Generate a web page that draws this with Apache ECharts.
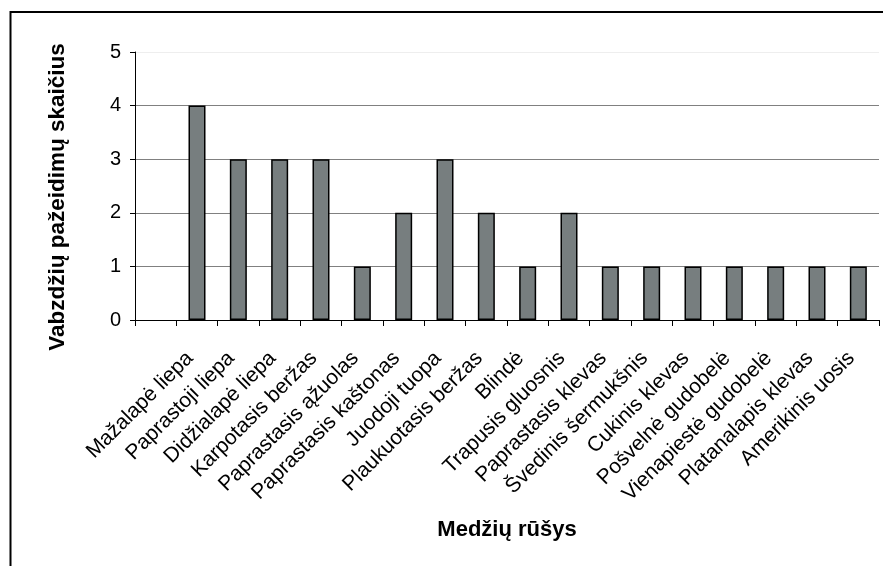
<!DOCTYPE html>
<html>
<head>
<meta charset="utf-8">
<script src="https://cdn.jsdelivr.net/npm/echarts@6/dist/echarts.min.js"></script>
<style>
  html, body { margin: 0; padding: 0; background: #fff; }
  #chart { width: 883px; height: 566px; }
</style>
</head>
<body>
<div id="chart"></div>
<script>
// Tree species (first slot is left empty on the axis)
const species = [
  '',
  'Mažalapė liepa',
  'Paprastoji liepa',
  'Didžialapė liepa',
  'Karpotasis beržas',
  'Paprastasis ąžuolas',
  'Paprastasis kaštonas',
  'Juodoji tuopa',
  'Plaukuotasis beržas',
  'Blindė',
  'Trapusis gluosnis',
  'Paprastasis klevas',
  'Švedinis šermukšnis',
  'Cukinis klevas',
  'Pošvelnė gudobelė',
  'Vienapiestė gudobelė',
  'Platanalapis klevas',
  'Amerikinis uosis'
];

// Number of insect damage cases per species
const damageCounts = [null, 4, 3, 3, 3, 1, 2, 3, 2, 1, 2, 1, 1, 1, 1, 1, 1, 1];

const yTicks = { min: 0, max: 5, step: 1 };

const chart = echarts.init(document.getElementById('chart'), null, { renderer: 'canvas' });

const font = 'Arial, "Liberation Sans", sans-serif';

chart.setOption({
  animation: false,
  backgroundColor: '#ffffff',
  grid: { left: 135, right: 4, top: 52, bottom: 246, containLabel: false },
  xAxis: {
    type: 'category',
    data: species,
    boundaryGap: true,
    axisLine: { show: true, lineStyle: { color: '#000', width: 1 } },
    axisTick: { show: true, interval: 0, length: 6, lineStyle: { color: '#000' } },
    axisLabel: {
      interval: 0, rotate: 45, margin: 28,
      color: '#000', fontFamily: font, fontSize: 21,
      padding: [0, 10, 0, 0]
    },
    splitLine: { show: false },
    name: 'Medžių rūšys',
    nameLocation: 'middle',
    nameGap: 199,
    nameTextStyle: { color: '#000', fontFamily: font, fontSize: 22, fontWeight: 'bold' }
  },
  yAxis: {
    type: 'value',
    min: yTicks.min, max: yTicks.max, interval: yTicks.step,
    axisLine: { show: true, lineStyle: { color: '#000', width: 1 } },
    axisTick: { show: true, length: 5, lineStyle: { color: '#000' } },
    axisLabel: { color: '#000', fontFamily: font, fontSize: 20, margin: 14 },
    splitLine: {
      show: true,
      lineStyle: { color: ['#808080', '#808080', '#808080', '#808080', '#808080', '#eeeeee'], width: 1 }
    },
    name: 'Vabzdžių pažeidimų skaičius',
    nameLocation: 'middle',
    nameGap: 66,
    nameTextStyle: { color: '#000', fontFamily: font, fontSize: 22.5, fontWeight: 'bold', padding: [0, 22, 0, 0] }
  },
  series: [{
    type: 'bar',
    data: damageCounts,
    barWidth: 17,
    itemStyle: { color: '#777e7f', borderColor: '#000', borderWidth: 1.5 }
  }],
  graphic: [{
    type: 'polyline',
    silent: true,
    shape: { points: [[10.5, 566], [10.5, 12], [883, 12]] },
    style: { stroke: '#000', lineWidth: 2, fill: null }
  }]
});
</script>
</body>
</html>
